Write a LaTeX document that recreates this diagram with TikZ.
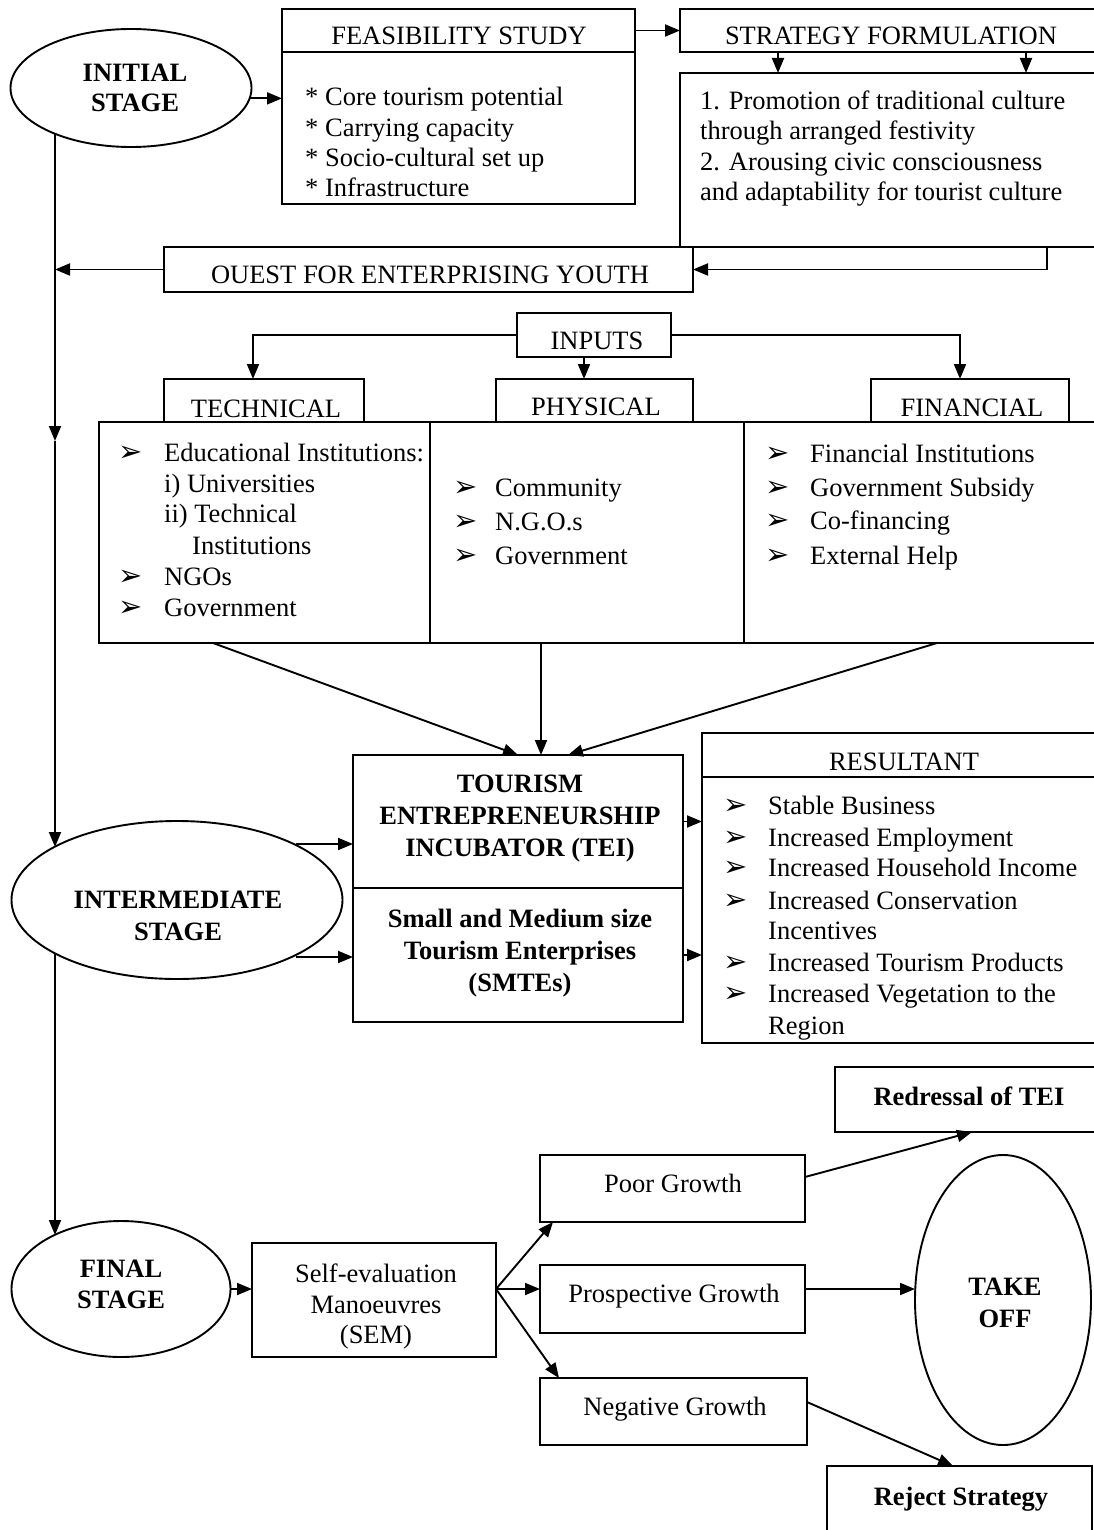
\documentclass[tikz,border=0pt]{standalone}
\usepackage{fontspec}
\setmainfont{Liberation Serif}
\newfontfamily\symfont{DejaVu Sans}
\usetikzlibrary{arrows.meta,shapes.geometric}
\newcommand\bul{{\symfont\fontsize{29}{29}\selectfont ➢}}
\begin{document}
\begin{tikzpicture}[x=1pt,y=-1pt,
  box/.style={draw, line width=1.9pt, inner sep=0pt, outer sep=0pt, anchor=north west},
  oval/.style={draw, ellipse, line width=1.9pt, inner sep=0pt, outer sep=0pt},
  arr/.style={line width=1.9pt, -{Triangle[length=15pt,width=12pt]}},
  t/.style={font=\fontsize{26.5}{30}\selectfont, inner sep=0pt, anchor=base west},
  tc/.style={font=\fontsize{26.5}{30}\selectfont, inner sep=0pt, anchor=base},
  tb/.style={font=\fontsize{26.5}{30}\selectfont\bfseries, inner sep=0pt, anchor=base},
  bl/.style={inner sep=0pt, anchor=base west},
]
\useasboundingbox (0,0) rectangle (1094,1530);
\clip (0,0) rectangle (1094,1530);
\fill[white] (0,0) rectangle (1094,1530);

% ---------- boxes ----------
\node[box, minimum width=353pt, minimum height=43pt] (feasH) at (282,9) {};
\node[box, minimum width=353pt, minimum height=152pt] (feasB) at (282,52) {};
\node[box, minimum width=430pt, minimum height=43pt] (stratH) at (680,9) {};
\node[box, minimum width=430pt, minimum height=174pt] (stratB) at (680,73) {};
\node[box, minimum width=529pt, minimum height=45pt] (quest) at (164,247) {};
\node[box, minimum width=154pt, minimum height=44pt] (inputs) at (517,313) {};
\node[box, minimum width=200pt, minimum height=43pt] (techH) at (164,379) {};
\node[box, minimum width=197pt, minimum height=43pt] (physH) at (496,379) {};
\node[box, minimum width=198pt, minimum height=43pt] (finH) at (871,379) {};
\node[box, minimum width=331pt, minimum height=221pt] (techB) at (99,422) {};
\node[box, minimum width=314pt, minimum height=221pt] (physB) at (430,422) {};
\node[box, minimum width=366pt, minimum height=221pt] (finB) at (744,422) {};
\node[box, minimum width=330pt, minimum height=133pt] (tei) at (353,755) {};
\node[box, minimum width=330pt, minimum height=134pt] (smte) at (353,888) {};
\node[box, minimum width=408pt, minimum height=44pt] (resH) at (702,733) {};
\node[box, minimum width=408pt, minimum height=266pt] (resB) at (702,777) {};
\node[box, minimum width=244pt, minimum height=114pt] (sem) at (252,1243) {};
\node[box, minimum width=265pt, minimum height=67pt] (poor) at (540,1155) {};
\node[box, minimum width=265pt, minimum height=68pt] (prosp) at (540,1265) {};
\node[box, minimum width=267pt, minimum height=67pt] (neg) at (540,1378) {};
\node[box, minimum width=270pt, minimum height=65pt] (redr) at (835,1067) {};
\node[box, minimum width=265pt, minimum height=80pt] (reject) at (827,1466) {};

% ---------- ellipses ----------
\node[oval, minimum width=241pt, minimum height=118pt] (init) at (131,88) {};
\node[oval, minimum width=331pt, minimum height=158pt] (inter) at (177,900) {};
\node[oval, minimum width=219pt, minimum height=136pt] (final) at (121,1289) {};
\node[oval, minimum width=176pt, minimum height=290pt] (takeoff) at (1003,1300) {};

% ---------- texts ----------
\node[tc] (tfeas) at (459,45) {FEASIBILITY STUDY};
\node[t] (f1) at (305,106) {* Core tourism potential};
\node[t] (f2) at (305,137) {* Carrying capacity};
\node[t] (f3) at (305,167) {* Socio-cultural set up};
\node[t] (f4) at (305,197) {* Infrastructure};

\node[tc] (tstrat) at (891,45) {STRATEGY FORMULATION};
\node[t] (s1) at (700,110) {1. Promotion of traditional culture};
\node[t] (s2) at (700,140) {through arranged festivity};
\node[t] (s3) at (700,171) {2. Arousing civic consciousness};
\node[t] (s4) at (700,201) {and adaptability for tourist culture};

\node[tc] (tquest) at (430,283) {OUEST FOR ENTERPRISING YOUTH};
\node[tc] (tinputs) at (597,349) {INPUTS};
\node[tc] (ttech) at (266,417) {TECHNICAL};
\node[tc] (tphys) at (596,415) {PHYSICAL};
\node[tc] (tfin) at (972,416) {FINANCIAL};

\node[bl] (b1) at (118,461) {\bul};
\node[t] (e1) at (164,461) {Educational Institutions:};
\node[t] (e2) at (164,492) {i) Universities};
\node[t] (e3) at (164,522) {ii) Technical};
\node[t] (e4) at (192,554) {Institutions};
\node[bl] (b2) at (118,585) {\bul};
\node[t] (e5) at (164,585) {NGOs};
\node[bl] (b3) at (118,616) {\bul};
\node[t] (e6) at (164,616) {Government};

\node[bl] (b4) at (453,496) {\bul};
\node[t] (p1) at (495,496) {Community};
\node[bl] (b5) at (453,530) {\bul};
\node[t] (p2) at (495,530) {N.G.O.s};
\node[bl] (b6) at (453,564) {\bul};
\node[t] (p3) at (495,564) {Government};

\node[bl] (b7) at (765,462) {\bul};
\node[t] (n1) at (810,462) {Financial Institutions};
\node[bl] (b8) at (765,496) {\bul};
\node[t] (n2) at (810,496) {Government Subsidy};
\node[bl] (b9) at (765,529) {\bul};
\node[t] (n3) at (810,529) {Co-financing};
\node[bl] (b10) at (765,564) {\bul};
\node[t] (n4) at (810,564) {External Help};

\node[tc] (tres) at (904,770) {RESULTANT};
\node[bl] (r1b) at (723,814) {\bul};
\node[t] (r1) at (768,814) {Stable Business};
\node[bl] (r2b) at (723,846) {\bul};
\node[t] (r2) at (768,846) {Increased Employment};
\node[bl] (r3b) at (723,876) {\bul};
\node[t] (r3) at (768,876) {Increased Household Income};
\node[bl] (r4b) at (723,909) {\bul};
\node[t] (r4) at (768,909) {Increased Conservation};
\node[t] (r5) at (768,939) {Incentives};
\node[bl] (r6b) at (723,971) {\bul};
\node[t] (r6) at (768,971) {Increased Tourism Products};
\node[bl] (r7b) at (723,1002) {\bul};
\node[t] (r7) at (768,1002) {Increased Vegetation to the};
\node[t] (r8) at (768,1034) {Region};

\node[tb] (tei1) at (520,792) {TOURISM};
\node[tb] (tei2) at (520,824) {ENTREPRENEURSHIP};
\node[tb] (tei3) at (520,856) {INCUBATOR (TEI)};
\node[tb] (sm1) at (520,927) {Small and Medium size};
\node[tb] (sm2) at (520,959) {Tourism Enterprises};
\node[tb] (sm3) at (520,991) {(SMTEs)};

\node[tb] (i1) at (135,82) {INITIAL};
\node[tb] (i2) at (135,112) {STAGE};
\node[tb] (m1) at (178,908) {INTERMEDIATE};
\node[tb] (m2) at (178,940) {STAGE};
\node[tb] (fi1) at (121,1277) {FINAL};
\node[tb] (fi2) at (121,1308) {STAGE};
\node[tb] (to1) at (1005,1295) {TAKE};
\node[tb] (to2) at (1005,1327) {OFF};

\node[tc] (se1) at (376,1282) {Self-evaluation};
\node[tc] (se2) at (376,1313) {Manoeuvres};
\node[tc] (se3) at (376,1343) {(SEM)};
\node[tc] (tpoor) at (673,1192) {Poor Growth};
\node[tc] (tprosp) at (674,1302) {Prospective Growth};
\node[tc] (tneg) at (675,1415) {Negative Growth};
\node[tb] (tredr) at (969,1105) {Redressal of TEI};
\node[tb] (trej) at (961,1505) {Reject Strategy};

% ---------- helper coordinates ----------
\coordinate (xs1) at (778,0);
\coordinate (xs2) at (1026,0);
\coordinate (xs3) at (1047,0);
\coordinate (spine) at (55,0);
\coordinate (sp0) at (55,134);
\coordinate (sp1) at (55,441);
\coordinate (sp2) at (55,847);
\coordinate (sp3) at (55,953);
\coordinate (sp4) at (55,1235);
\coordinate (xt) at (253,0);
\coordinate (xp) at (584,0);
\coordinate (xf) at (960,0);
\coordinate (dx1) at (213,0);
\coordinate (dx2) at (541,0);
\coordinate (dx3) at (937,0);
\coordinate (ex1) at (518,0);
\coordinate (ex3) at (568,0);
\coordinate (a1) at (296,844);
\coordinate (a2) at (296,957);
\coordinate (so) at (final.east -| sem.east);
\coordinate (pb) at (553,0);
\coordinate (nt) at (559,0);
\coordinate (py) at (0,1177);
\coordinate (rb) at (972,0);
\coordinate (ny) at (0,1402);
\coordinate (rt) at (953,0);

% ---------- connectors ----------
\draw[arr] (init.-5) -- (init.-5 -| feasB.west);
\draw[arr] (feasH.east) -- (stratH.west);
\draw[arr] (stratH.south -| xs1) -- (stratB.north -| xs1);
\draw[arr] (stratH.south -| xs2) -- (stratB.north -| xs2);
\draw[arr] (stratB.south -| xs3) |- (quest.east);
\draw[arr] (quest.west) -- (quest.west -| spine);
\draw[arr] (sp0) -- (sp1);
\draw[arr] (sp1) -- (sp2);
\draw[arr] (sp3) -- (sp4);

\draw[arr] (inputs.west) -| (techH.north -| xt);
\draw[arr] (inputs.south -| xp) -- (physH.north -| xp);
\draw[arr] (inputs.east) -| (finH.north -| xf);

\draw[arr] (techB.south -| dx1) -- (tei.north -| ex1);
\draw[arr] (physB.south -| dx2) -- (tei.north -| dx2);
\draw[arr] (finB.south -| dx3) -- (tei.north -| ex3);

\draw[arr] (a1) -- (a1 -| tei.west);
\draw[arr] (a2) -- (a2 -| smte.west);
\draw[arr] (tei.east) -- (tei.east -| resB.west);
\draw[arr] (smte.east) -- (smte.east -| resB.west);

\draw[arr] (final.east) -- (final.east -| sem.west);
\draw[arr] (so) -- (poor.south -| pb);
\draw[arr] (so) -- (so -| prosp.west);
\draw[arr] (so) -- (neg.north -| nt);
\draw[arr] (poor.east |- py) -- (redr.south -| rb);
\draw[arr] (so -| prosp.east) -- (so -| takeoff.west);
\draw[arr] (neg.east |- ny) -- (reject.north -| rt);
\end{tikzpicture}
\end{document}
